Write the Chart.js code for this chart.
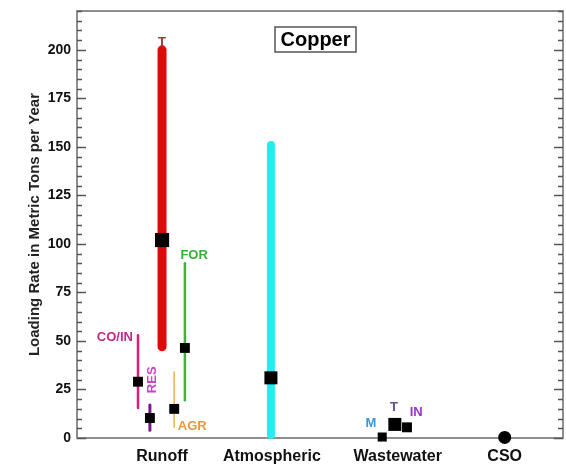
<!DOCTYPE html>
<html><head><meta charset="utf-8">
<script src="https://cdn.jsdelivr.net/npm/chart.js@4"></script>
<style>html,body{margin:0;padding:0;background:#fff}#wrap{width:566px;height:468px}</style>
</head><body><div id="wrap"><canvas id="c"></canvas></div>
<script>
const categories = ['Runoff','Atmospheric','Wastewater','CSO'];
const categoryX = [1.75, 4.01, 6.6, 8.8];
const yTickValues = [0,25,50,75,100,125,150,175,200];

const rangeNames = ['CO/IN','RES','T','AGR','FOR','Atmospheric'];
const rangeX = [1.255, 1.5, 1.75, 2.0, 2.22, 3.99];
const rangeLow = [15.5, 4, 47, 5.5, 19.5, 1.5];
const rangeHigh = [53, 17, 200, 34, 90, 151];
const meanValues = [29, 10.3, 102, 15, 46.4, 31];
const rangeColors = ['#e6197d','#7a1a8a','#dd0a0a','#e8b060','#3cb43c','#22eef2'];
const rangeWidths = [2.5, 3, 9, 1.5, 2.5, 8];
const meanSizes = [7, 7, 10, 7, 7, 9.2];

const wwNames = ['M','T','IN'];
const wwX = [6.28, 6.54, 6.79];
const wwValues = [0.5, 7, 5.5];
const wwSizes = [6.4, 9.2, 7];

const csoX = [8.8];
const csoValues = [0.3];

const annotations = [
  {text:'T', x:1.75, y:204, color:'#9a3a3a'},
  {text:'CO/IN', x:0.78, y:52, color:'#c0288a'},
  {text:'RES', x:1.56, y:30, color:'#cc44cc', rotate:true},
  {text:'AGR', x:2.37, y:6, color:'#e89a3a'},
  {text:'FOR', x:2.41, y:94, color:'#38b038'},
  {text:'M', x:6.05, y:7.7, color:'#3399dd'},
  {text:'T', x:6.52, y:16, color:'#55559a'},
  {text:'IN', x:6.98, y:13, color:'#9933cc'}
];

const datasets = [];
rangeNames.forEach((n,i)=>{
  datasets.push({type:'line', label:n+' range', data:[{x:rangeX[i],y:rangeLow[i]},{x:rangeX[i],y:rangeHigh[i]}],
    borderColor:rangeColors[i], borderWidth:rangeWidths[i], borderCapStyle:'round', pointRadius:0, showLine:true, order:2, clip:false});
});
rangeNames.forEach((n,i)=>{
  datasets.push({type:'scatter', label:n+' mean', data:[{x:rangeX[i],y:meanValues[i]}],
    pointStyle:'rect', pointRadius:meanSizes[i], backgroundColor:'#000', borderColor:'#000', borderWidth:0, order:1, clip:false});
});
wwNames.forEach((n,i)=>{
  datasets.push({type:'scatter', label:'WW '+n, data:[{x:wwX[i],y:wwValues[i]}],
    pointStyle:'rect', pointRadius:wwSizes[i], backgroundColor:'#000', borderColor:'#000', borderWidth:0, order:1, clip:false});
});
datasets.push({type:'scatter', label:'CSO', data:csoX.map((x,i)=>({x, y:csoValues[i]})),
  pointStyle:'circle', pointRadius:6.5, backgroundColor:'#000', borderColor:'#000', borderWidth:0, order:1, clip:false});

const FONT = '"Liberation Sans", Arial, sans-serif';
const decor = {
  id:'decor',
  beforeDatasetsDraw(chart){
    const {ctx, chartArea:a, scales} = chart;
    const ys = scales.y;
    ctx.save();
    ctx.strokeStyle = '#6a6a6a'; ctx.lineWidth = 1.5;
    ctx.strokeRect(a.left, a.top, a.right-a.left, a.bottom-a.top);
    ctx.strokeStyle = '#555'; ctx.lineWidth = 1.3;
    for (let v = 0; v <= ys.max; v += 5) {
      const y = Math.round(ys.getPixelForValue(v)) + 0.5;
      const len = (v % 25 === 0) ? 9 : 5;
      ctx.beginPath();
      ctx.moveTo(a.left, y); ctx.lineTo(a.left+len, y);
      ctx.moveTo(a.right, y); ctx.lineTo(a.right-len, y);
      ctx.stroke();
    }
    ctx.restore();
  },
  afterDatasetsDraw(chart){
    const {ctx, scales} = chart;
    const xs = scales.x, ys = scales.y;
    ctx.save();
    ctx.font = 'bold 13px ' + FONT;
    ctx.textAlign = 'center'; ctx.textBaseline = 'middle';
    annotations.forEach(an=>{
      const px = xs.getPixelForValue(an.x), py = ys.getPixelForValue(an.y);
      ctx.fillStyle = an.color;
      if (an.rotate) {
        ctx.save(); ctx.translate(px, py); ctx.rotate(-Math.PI/2);
        ctx.fillText(an.text, 0, 0); ctx.restore();
      } else ctx.fillText(an.text, px, py);
    });
    ctx.font = 'bold 20px ' + FONT;
    ctx.fillStyle = '#fff';
    ctx.fillRect(275, 27, 81, 25);
    ctx.strokeStyle = '#555'; ctx.lineWidth = 1.5;
    ctx.strokeRect(275, 27, 81, 25);
    ctx.fillStyle = '#000';
    ctx.fillText('Copper', 315.5, 40.5);
    ctx.restore();
  }
};

new Chart(document.getElementById('c'), {
  data:{datasets},
  options:{
    responsive:true, maintainAspectRatio:false, animation:false,
    layout:{autoPadding:false, padding:{left:0, right:3, top:11, bottom:0}},
    plugins:{legend:{display:false}, tooltip:{enabled:false}},
    scales:{
      x:{type:'linear', min:0, max:10,
        grid:{display:false, drawTicks:false}, border:{display:false},
        afterBuildTicks(s){ s.ticks = categoryX.map(v=>({value:v})); },
        afterFit(s){ s.height = 30; s.paddingLeft = 0; s.paddingRight = 0; },
        ticks:{padding:9, color:'#111', font:{family:FONT, size:16, weight:'bold'},
          callback(v){ const i = categoryX.indexOf(v); return i>=0 ? categories[i] : ''; }, autoSkip:false, maxRotation:0}
      },
      y:{type:'linear', min:0, max:220,
        grid:{display:false, drawTicks:false}, border:{display:false},
        afterBuildTicks(s){ s.ticks = yTickValues.map(v=>({value:v})); },
        afterFit(s){ s.width = 77; s.paddingTop = 0; s.paddingBottom = 0; },
        ticks:{padding:6, color:'#111', font:{family:FONT, size:14, weight:'bold'}},
        title:{display:true, text:'Loading Rate in Metric Tons per Year', color:'#222',
          font:{family:FONT, size:15, weight:'bold'}, padding:{top:26, bottom:0}}
      }
    }
  },
  plugins:[decor]
});
</script></body></html>
